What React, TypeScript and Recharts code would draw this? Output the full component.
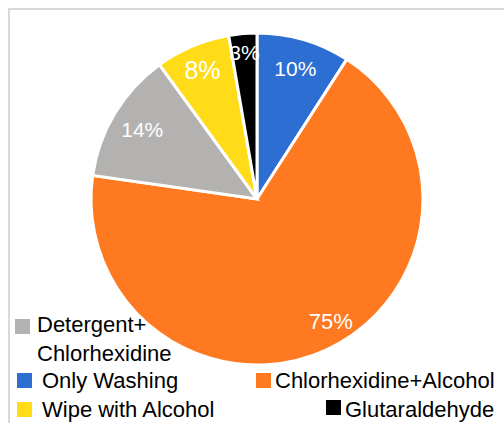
import { PieChart, Pie, Cell } from "recharts";

const labels = [
  "Only Washing",
  "Chlorhexidine+Alcohol",
  "Detergent+ Chlorhexidine",
  "Wipe with Alcohol",
  "Glutaraldehyde",
];
const values = [10, 75, 14, 8, 3];
const colors = ["#2D6ED3", "#FF7920", "#B3B2B0", "#FFDC17", "#000000"];

const data = labels.map((name, i) => ({ name, value: values[i] }));

const RAD = Math.PI / 180;
const labelSize = [21, 22, 21, 25, 21];
const labelR = [136, 143, 134, 140, 147];
const labelShift = [0, 6.5, 0, 0, 0];

const renderLabel = (p: any) => {
  const r = labelR[p.index];
  const a = p.midAngle + labelShift[p.index];
  const x = p.cx + r * Math.cos(-a * RAD);
  const y = p.cy + r * Math.sin(-a * RAD);
  return (
    <text
      x={x}
      y={y}
      fill="#fff"
      fontSize={labelSize[p.index]}
      fontFamily="Liberation Sans, Arial, sans-serif"
      textAnchor="middle"
      dominantBaseline="central"
    >
      {p.value}%
    </text>
  );
};

// legend layout: square left/top, text left, text baseline
const legendPos: Record<string, { left: number; top: number; text: number; base: number; width?: number }> = {
  "Detergent+ Chlorhexidine": { left: 15, top: 319, text: 37, base: 332, width: 150 },
  "Only Washing": { left: 17, top: 373, text: 42, base: 388 },
  "Chlorhexidine+Alcohol": { left: 256, top: 373, text: 275, base: 388 },
  "Wipe with Alcohol": { left: 17, top: 402, text: 42, base: 417 },
  Glutaraldehyde: { left: 326, top: 400, text: 345, base: 417 },
};

const LegendBox = () => (
  <div>
    {data.map((d, i) => {
      const pos = legendPos[d.name];
      return (
        <div key={d.name}>
          <div
            style={{
              position: "absolute",
              left: pos.left,
              top: pos.top,
              width: 15,
              height: 15,
              background: colors[i],
            }}
          />
          <div
            style={{
              position: "absolute",
              left: pos.text,
              top: pos.base - 22,
              width: pos.width,
              fontSize: 22,
              lineHeight: "29px",
              color: "#000",
              whiteSpace: pos.width ? "normal" : "nowrap",
            }}
          >
            {d.name}
          </div>
        </div>
      );
    })}
  </div>
);

export default function App() {
  return (
    <div
      style={{
        position: "absolute",
        left: 0,
        top: 0,
        width: 504,
        height: 423,
        background: "#fff",
        fontFamily: "Liberation Sans, Arial, sans-serif",
        overflow: "hidden",
      }}
    >
      <div
        style={{
          position: "absolute",
          left: 8,
          top: 8,
          width: 500,
          height: 420,
          borderTop: "2px solid #d9d9d9",
          borderLeft: "2px solid #d9d9d9",
        }}
      />
      <div style={{ position: "absolute", left: 0, top: 0 }}>
        <PieChart width={504} height={423} margin={{ top: 0, right: 0, bottom: 0, left: 0 }}>
          <Pie
            data={data}
            dataKey="value"
            nameKey="name"
            cx={257}
            cy={199}
            outerRadius={166}
            startAngle={90}
            endAngle={-270}
            stroke="#fff"
            strokeWidth={3}
            label={renderLabel}
            labelLine={false}
            isAnimationActive={false}
          >
            {data.map((d, i) => (
              <Cell key={d.name} fill={colors[i]} />
            ))}
          </Pie>
        </PieChart>
      </div>
      <LegendBox />
    </div>
  );
}
